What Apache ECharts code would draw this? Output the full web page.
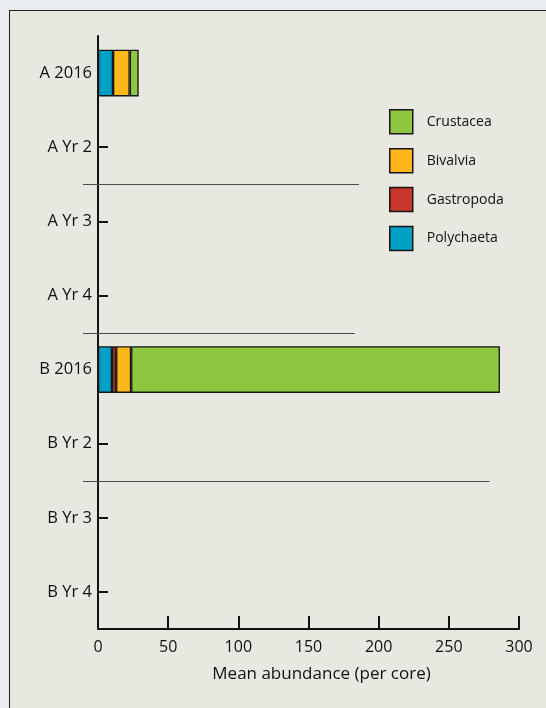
<!DOCTYPE html>
<html>
<head>
<meta charset="utf-8">
<script src="https://cdn.jsdelivr.net/npm/echarts@6/dist/echarts.min.js"></script>
<style>
  html, body { margin: 0; padding: 0; width: 546px; height: 708px; overflow: hidden; background: #e9edf0; }
  #panel { position: absolute; left: 9px; top: 10px; width: 600px; height: 800px; background: #e8e7e0; border: 1.5px solid #1e1e1e; box-sizing: border-box; }
  #chart { position: absolute; left: 0; top: 0; width: 546px; height: 708px; }
</style>
</head>
<body>
<div id="panel"></div>
<div id="chart"></div>
<script>
// ---- data ----
const categories = ['A 2016', 'A Yr 2', 'A Yr 3', 'A Yr 4', 'B 2016', 'B Yr 2', 'B Yr 3', 'B Yr 4'];
const polychaeta = [10.7, null, null, null, 10.0, null, null, null];
const gastropoda = [null, null, null, null, 2.9, null, null, null];
const bivalvia   = [11.9, null, null, null, 10.7, null, null, null];
const crustacea  = [6.4, null, null, null, 262.8, null, null, null];
const xTicks = [0, 50, 100, 150, 200, 250, 300];
const legendOrder = ['Crustacea', 'Bivalvia', 'Gastropoda', 'Polychaeta'];
// separator lines: [category above, category below, right end in axis units]
const separators = [
  ['A Yr 2', 'A Yr 3', 186],
  ['A Yr 4', 'B 2016', 183],
  ['B Yr 2', 'B Yr 3', 279]
];

const FONT = 'Open Sans';
const colors = { Polychaeta: '#00a0c6', Gastropoda: '#c9372c', Bivalvia: '#fdb71a', Crustacea: '#8dc63f' };

function bar(name, data) {
  return {
    name: name, type: 'bar', stack: 'total', data: data, barWidth: '63%',
    itemStyle: { color: colors[name], borderColor: '#161616', borderWidth: 1.3 }
  };
}

const chart = echarts.init(document.getElementById('chart'), null, { renderer: 'canvas' });
const option = {
  backgroundColor: 'transparent',
  animation: false,
  textStyle: { fontFamily: FONT },
  grid: { left: 98, right: 27, top: 36, bottom: 79, containLabel: false },
  legend: {
    data: legendOrder, orient: 'vertical', left: 389, top: 109, padding: 0,
    itemWidth: 23, itemHeight: 24, itemGap: 13.4, icon: 'rect',
    itemStyle: { borderColor: '#161616', borderWidth: 1.5 },
    textStyle: { fontFamily: FONT, fontSize: 14, color: '#111', padding: [0, 0, 0, 9] }
  },
  xAxis: {
    type: 'value', min: xTicks[0], max: xTicks[xTicks.length - 1], interval: 50,
    name: 'Mean abundance (per core)', nameLocation: 'middle', nameGap: 37,
    nameTextStyle: { fontFamily: FONT, fontSize: 17, color: '#111', padding: [0, 0, 0, 26] },
    axisLine: { show: true, lineStyle: { color: '#111', width: 2 } },
    axisTick: { show: true, inside: true, length: 13, lineStyle: { color: '#111', width: 2 } },
    axisLabel: { fontFamily: FONT, fontSize: 16, color: '#111', margin: 10 },
    splitLine: { show: false }
  },
  yAxis: {
    type: 'category', data: categories, inverse: true,
    axisLine: { show: true, lineStyle: { color: '#111', width: 2 } },
    axisTick: { show: true, inside: true, length: 10, alignWithLabel: true, lineStyle: { color: '#111', width: 2 } },
    axisLabel: { fontFamily: FONT, fontSize: 16.5, color: '#111', margin: 6 },
    splitLine: { show: false }
  },
  series: [
    bar('Polychaeta', polychaeta),
    bar('Gastropoda', gastropoda),
    bar('Bivalvia', bivalvia),
    bar('Crustacea', crustacea)
  ]
};
chart.setOption(option);

// separators placed through the chart's own scales
const x0 = chart.convertToPixel({ xAxisIndex: 0 }, 0);
const graphics = separators.map(function (s) {
  const y1 = chart.convertToPixel({ yAxisIndex: 0 }, s[0]);
  const y2 = chart.convertToPixel({ yAxisIndex: 0 }, s[1]);
  const y = Math.round((y1 + y2) / 2) + 0.5;
  const xe = chart.convertToPixel({ xAxisIndex: 0 }, s[2]);
  return {
    type: 'line', z: 1,
    shape: { x1: x0 - 15, y1: y, x2: xe, y2: y },
    style: { stroke: '#4a4a4a', lineWidth: 1 }
  };
});
chart.setOption({ graphic: graphics });
</script>
</body>
</html>
